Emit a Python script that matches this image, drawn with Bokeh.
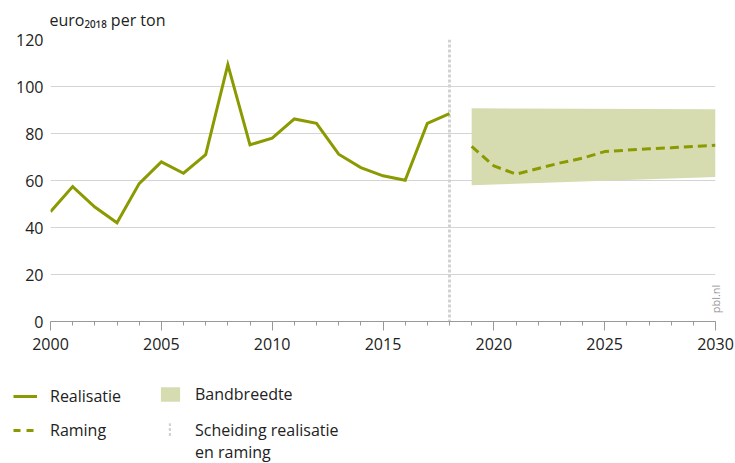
import math
from bokeh.plotting import figure
from bokeh.layouts import column
from bokeh.models import Range1d, FixedTicker, Legend, LegendItem, LinearAxis, Title
from bokeh.embed import file_html
from bokeh.resources import INLINE

# ---- data ----
years_real = list(range(2000, 2019))
price_real = [46.7, 57.4, 48.7, 42.0, 58.7, 67.9, 63.1, 71.0, 109.3, 75.2,
              78.0, 86.2, 84.3, 71.2, 65.5, 62.0, 60.1, 84.3, 88.5]
years_fc = list(range(2019, 2031))
price_fc = [74.5, 66.2, 62.7, 65.1, 67.5, 69.5, 72.3, 72.9, 73.5, 73.9, 74.5, 75.0]
band_years = [2019, 2030]
band_low = [58.0, 61.5]
band_high = [90.7, 90.3]
split_year = [2018]
x_major = [2000, 2005, 2010, 2015, 2020, 2025, 2030]
x_minor = list(range(2000, 2031))
y_ticks = [0, 20, 40, 60, 80, 100, 120]
source_tick = [3.5]

OLIVE = "#8b9a00"
BAND = "#d6dcb0"
SEP = "#d2d2d2"
TXT = "#222222"
FONT = "Open Sans"

p = figure(width=735, height=360, x_range=Range1d(2000, 2030), y_range=Range1d(0, 120),
           output_backend="svg", toolbar_location=None,
           min_border_left=50, min_border_right=20, min_border_top=39, min_border_bottom=39)
p.outline_line_color = None
p.background_fill_color = None
p.border_fill_color = "white"

p.title = Title(text="euro\u2082\u2080\u2081\u2088 per ton", text_font=FONT, text_font_size="16px",
                text_font_style="normal", text_color=TXT, align="left", offset=-1,
                standoff=14, vertical_align="top")

# axes
xa = p.xaxis[0]
xa.ticker = FixedTicker(ticks=x_major, minor_ticks=x_minor)
xa.axis_line_color = "#999999"
xa.major_tick_line_color = "#999999"
xa.minor_tick_line_color = "#999999"
xa.major_tick_in = 0
xa.major_tick_out = 9
xa.minor_tick_in = 0
xa.minor_tick_out = 4
xa.major_label_standoff = 7
xa.major_label_text_font = FONT
xa.major_label_text_font_size = "16px"
xa.major_label_text_color = TXT

ya = p.yaxis[0]
ya.ticker = FixedTicker(ticks=y_ticks)
ya.axis_line_color = None
ya.major_tick_line_color = None
ya.minor_tick_line_color = None
ya.major_tick_in = 0
ya.major_tick_out = 0
ya.major_label_standoff = 7
ya.major_label_text_font = FONT
ya.major_label_text_font_size = "16px"
ya.major_label_text_color = TXT

# source note on the right
ra = LinearAxis(ticker=FixedTicker(ticks=source_tick), major_label_overrides={source_tick[0]: "pbl.nl"},
                major_label_orientation=math.pi / 2, axis_line_color=None,
                major_tick_line_color=None, minor_tick_line_color=None,
                major_tick_in=0, major_tick_out=0, major_label_standoff=0,
                major_label_text_font=FONT, major_label_text_font_size="11px",
                major_label_text_color="#999999")
p.add_layout(ra, "right")

p.xgrid.grid_line_color = None
p.ygrid.grid_line_color = "#d4d4d4"
p.ygrid.grid_line_width = 1

# glyphs
p.varea(x=band_years, y1=band_low, y2=band_high, fill_color=BAND, fill_alpha=1)
p.vspan(x=split_year, line_color=SEP, line_width=3, line_dash="3 2")
p.line(years_real, price_real, line_color=OLIVE, line_width=3, line_join="miter")
p.line(years_fc, price_fc, line_color=OLIVE, line_width=3, line_dash="9 5")

# ---- legend panel: same series, drawn outside this panel's range, only the legend shows ----
lf = figure(width=735, height=103, x_range=Range1d(0, 1), y_range=Range1d(0, 1),
            x_axis_location=None, y_axis_location=None, output_backend="svg",
            toolbar_location=None, min_border=0, min_border_left=0, min_border_right=0,
            min_border_top=0, min_border_bottom=0)
lf.outline_line_color = None
lf.background_fill_color = None
lf.border_fill_color = "white"
lf.xgrid.visible = False
lf.ygrid.visible = False
for fig in (p, lf):
    try:
        fig.frame_align = False
    except Exception:
        pass

k_real = lf.line(years_real, price_real, line_color=OLIVE, line_width=3)
k_fc = lf.line(years_fc, price_fc, line_color=OLIVE, line_width=3, line_dash="7 6")
k_band = lf.varea(x=band_years, y1=band_low, y2=band_high, fill_color=BAND, fill_alpha=1)
k_sep = lf.vbar(x=split_year, top=[y_ticks[-1]], width=0.1, fill_alpha=0, line_color=None,
                hatch_pattern="horizontal_line", hatch_color=SEP, hatch_weight=3, hatch_scale=5)
k_none = lf.line(years_real, price_real, line_alpha=0)

common = dict(orientation="vertical", glyph_width=24, glyph_height=18, label_standoff=13,
              label_height=18, spacing=12, padding=0, margin=0, border_line_color=None,
              background_fill_alpha=0, label_text_font=FONT, label_text_font_size="16px",
              label_text_color=TXT)
lf.add_layout(Legend(items=[LegendItem(label="Realisatie", renderers=[k_real]),
                            LegendItem(label="Raming", renderers=[k_fc])],
                     location=(13, 22), **common), "center")
lf.add_layout(Legend(items=[LegendItem(label="Bandbreedte", renderers=[k_band])],
                     location=(158, 58), **common), "center")
sep_opts = dict(common, glyph_width=3, label_standoff=24)
lf.add_layout(Legend(items=[LegendItem(label="Scheiding realisatie", renderers=[k_sep])],
                     location=(168, 22), **sep_opts), "center")
lf.add_layout(Legend(items=[LegendItem(label="en raming", renderers=[k_none])],
                     location=(158, 0), **common), "center")

layout = column(p, lf, spacing=0)
open("out.html", "w").write(file_html(layout, INLINE))
